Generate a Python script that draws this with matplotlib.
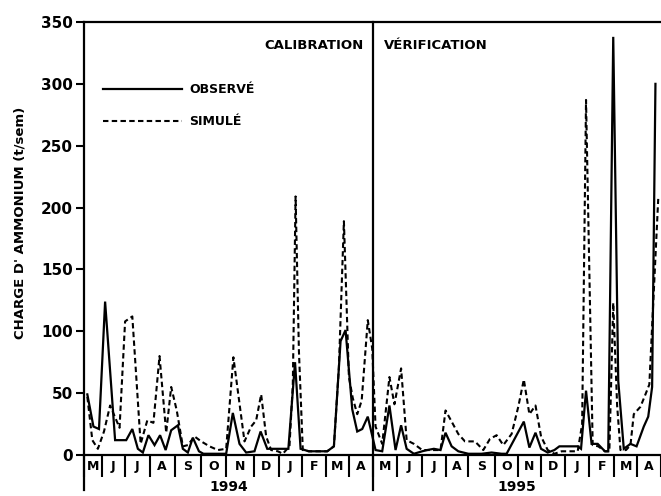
import matplotlib
matplotlib.use("Agg")
import matplotlib.pyplot as plt
import matplotlib.transforms as mtransforms

# ---- data (x in weeks from 1 May 1994) ----
obs_week = [0.6, 1.7, 2.7, 3.8, 5.6, 7.6, 8.7, 9.7, 10.6, 11.6, 12.7, 13.7, 14.7, 15.7, 16.9,
            17.8, 18.7, 19.6, 20.7, 21.5, 25.6, 26.8, 28.0, 29.2, 30.7, 31.8, 33.0, 34.2, 36.8,
            38.0, 39.0, 40.5, 43.8, 45.0, 46.2, 47.1, 48.3, 49.2, 50.1, 51.1, 52.5, 53.7, 55.0,
            56.1, 57.1, 58.1, 59.4, 60.9, 61.8, 63.0, 64.2, 65.1, 66.2, 67.4, 69.2, 71.6, 73.4,
            75.2, 76.1, 79.2, 80.2, 81.3, 82.3, 83.5, 84.7, 85.6, 87.1, 88.9, 89.5, 90.4, 91.4,
            92.5, 93.8, 94.4, 95.3, 96.2, 97.2, 98.4, 99.5, 100.8, 101.6, 102.3, 102.9]
obs_val = [49, 23, 21, 124, 12, 12, 21, 5, 2, 16, 8, 16, 4, 20, 24,
           5, 2, 14, 3, 1, 1, 34, 9, 2, 3, 19, 5, 5, 5,
           75, 5, 3, 3, 7, 92, 101, 37, 19, 21, 31, 4, 3, 40,
           4, 24, 5, 1, 3, 4, 5, 4, 18, 7, 3, 1, 1, 2,
           1, 1, 27, 6, 18, 5, 2, 4, 7, 7, 7, 5, 52, 9,
           9, 3, 3, 338, 60, 5, 9, 7, 23, 31, 55, 300]

sim_week = [0.6, 1.5, 2.5, 3.6, 4.7, 6.4, 7.4, 8.7, 10.2, 11.4, 12.5, 13.6, 14.8, 15.7, 16.7,
            17.8, 18.7, 19.9, 21.1, 22.6, 24.1, 25.6, 26.9, 28.9, 30.1, 31.0, 31.9, 32.8, 33.7,
            34.9, 35.8, 37.0, 37.6, 38.1, 38.7, 39.4, 40.5, 43.8, 45.0, 45.9, 46.8, 47.7, 48.4,
            49.2, 50.0, 51.1, 51.9, 52.5, 53.7, 55.0, 55.9, 57.1, 58.1, 59.4, 60.9, 62.5, 64.2,
            65.1, 66.2, 67.4, 68.6, 70.4, 71.9, 73.1, 74.3, 75.5, 77.0, 78.2, 79.2, 80.2, 81.3,
            82.3, 83.5, 84.7, 86.0, 88.9, 89.7, 90.4, 91.6, 92.6, 93.8, 94.6, 95.3, 96.0, 96.6,
            97.6, 98.4, 99.0, 100.2, 101.1, 101.8, 103.4]
sim_val = [47, 12, 5, 19, 40, 22, 108, 112, 9, 28, 26, 80, 18, 55, 36,
           7, 8, 15, 11, 7, 4, 5, 79, 11, 23, 28, 49, 15, 4,
           3, 1, 7, 57, 209, 84, 4, 3, 3, 7, 71, 189, 63, 46,
           33, 44, 109, 86, 23, 9, 63, 41, 70, 12, 9, 4, 4, 4,
           36, 27, 17, 11, 11, 4, 13, 16, 8, 17, 39, 61, 33, 40,
           15, 4, 1, 3, 3, 25, 287, 8, 7, 3, 3, 123, 40, 4,
           4, 8, 33, 39, 49, 57, 207]

month_labels = ["M", "J", "J", "A", "S", "O", "N", "D", "J", "F", "M", "A"] * 2
month_edges = [0, 3.2, 7.3, 11.8, 16.3, 21.0, 25.6, 30.6, 35.1, 39.2, 43.5, 47.7, 52.1,
               56.3, 60.8, 65.1, 69.2, 74.0, 78.1, 82.3, 86.7, 91.0, 95.5, 99.6, 103.9]
year_labels = ["1994", "1995"]
divider_week = 52.1
yticks = [0, 50, 100, 150, 200, 250, 300, 350]

FW = "bold"
fig = plt.figure(figsize=(6.61, 4.96), dpi=100)
ax = fig.add_axes([84 / 661, 1 - 455 / 496, 1 - 84 / 661, (455 - 22) / 496])

ax.plot(obs_week, obs_val, color="black", lw=1.6, solid_joinstyle="miter")
ax.plot(sim_week, sim_val, color="black", lw=1.5, ls=(0, (2.6, 1.6)))

ax.set_xlim(0, 103.4)
ax.set_ylim(0, 350)

ax.spines["right"].set_visible(False)
for s in ["left", "top", "bottom"]:
    ax.spines[s].set_linewidth(1.6)

ax.set_yticks(yticks)
ax.set_yticklabels([str(v) for v in yticks], fontsize=11, fontweight=FW)
ax.tick_params(axis="y", direction="out", length=6, width=1.5, pad=2)

ax.set_xticks(month_edges)
ax.set_xticklabels([])
ax.tick_params(axis="x", direction="out", length=16, width=1.5)

trans = mtransforms.blended_transform_factory(ax.transData, ax.transAxes)
for i, lab in enumerate(month_labels):
    xm = (month_edges[i] + month_edges[i + 1]) / 2
    if xm > 103.4:
        xm = 102.9
    ax.text(xm, -0.027, lab, transform=trans, ha="center", va="center",
            fontsize=9, fontweight=FW, clip_on=False)

ax.text((month_edges[0] + month_edges[12]) / 2, -0.075, year_labels[0], transform=trans,
        ha="center", va="center", fontsize=10, fontweight=FW)
ax.text((month_edges[12] + month_edges[24]) / 2, -0.075, year_labels[1], transform=trans,
        ha="center", va="center", fontsize=10, fontweight=FW)

ax.axvline(divider_week, ymin=-0.08, ymax=1, color="black", lw=1.6, clip_on=False)
ax.axvline(0, ymin=-0.08, ymax=0, color="black", lw=1.6, clip_on=False)

ax.text(0.485, 0.945, "CALIBRATION", transform=ax.transAxes, ha="right", va="center",
        fontsize=9.5, fontweight=FW)
ax.text(0.52, 0.945, "VÉRIFICATION", transform=ax.transAxes, ha="left", va="center",
        fontsize=9.5, fontweight=FW)

leg = ax.legend(["OBSERVÉ", "SIMULÉ"], loc="upper left", bbox_to_anchor=(0.014, 0.885),
                frameon=False, handlelength=6.3, handletextpad=0.6, labelspacing=1.55,
                prop={"size": 9, "weight": "bold"})

ax.set_ylabel("CHARGE D' AMMONIUM (t/sem)", fontsize=9.5, fontweight=FW)
ax.yaxis.set_label_coords(-0.1, 0.535)

fig.savefig("out.png", dpi=100)
